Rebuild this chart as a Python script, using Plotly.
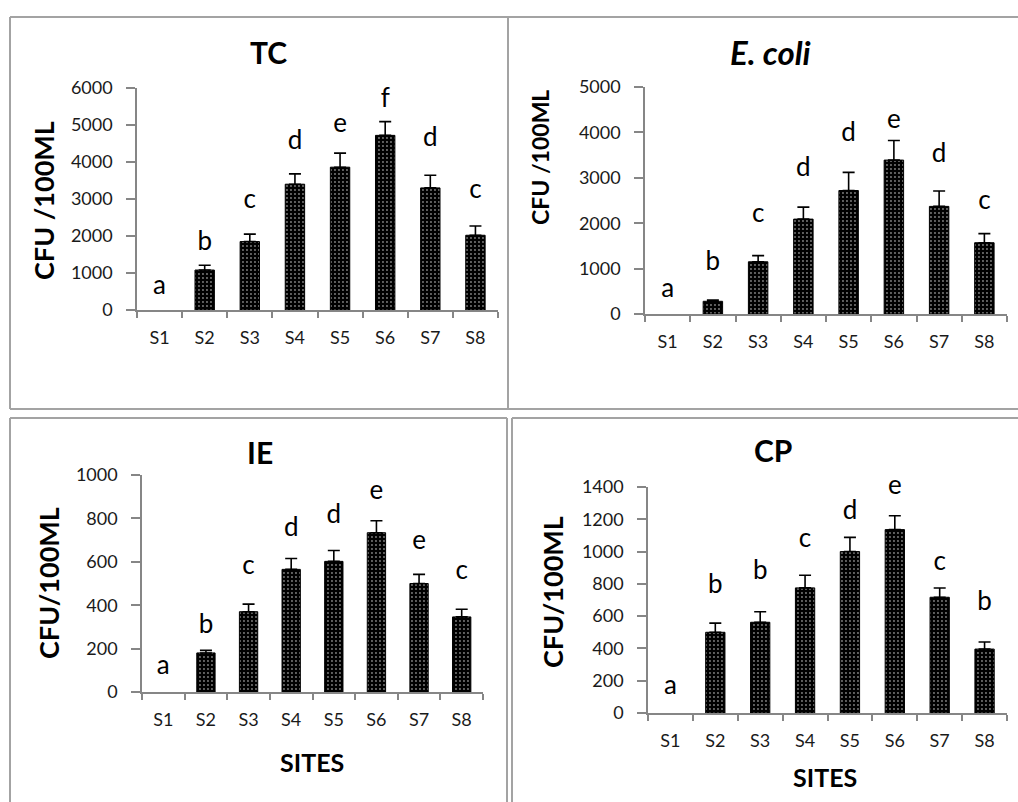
import plotly.graph_objects as go

W, H = 1018, 802

# ---------------- data ----------------
sites = ["S1", "S2", "S3", "S4", "S5", "S6", "S7", "S8"]

tc_mean = [0, 1080, 1850, 3400, 3860, 4720, 3300, 2020]
tc_err = [0, 130, 200, 280, 380, 370, 340, 250]
tc_letters = ["a", "b", "c", "d", "e", "f", "d", "c"]
tc_letter_y = [620, 1810, 2920, 4520, 4980, 5660, 4600, 3190]

ecoli_mean = [0, 280, 1150, 2090, 2720, 3390, 2370, 1570]
ecoli_err = [0, 30, 135, 265, 400, 430, 340, 200]
ecoli_letters = ["a", "b", "c", "d", "d", "e", "d", "c"]
ecoli_letter_y = [507, 1123, 2159, 3172, 3943, 4251, 3502, 2467]

ie_mean = [0, 180, 370, 565, 602, 734, 500, 346]
ie_err = [0, 12, 35, 50, 50, 55, 42, 35]
ie_letters = ["a", "b", "c", "d", "d", "e", "e", "c"]
ie_letter_y = [112, 301, 573, 750, 808, 918, 688, 550]

cp_mean = [0, 500, 562, 775, 1000, 1136, 717, 396]
cp_err = [0, 57, 65, 78, 88, 86, 57, 44]
cp_letters = ["a", "b", "b", "c", "d", "e", "c", "b"]
cp_letter_y = [155, 783, 871, 1070, 1245, 1400, 925, 677]

# ---------------- helpers ----------------
def px(x):
    return x / W


def py(y):
    return 1 - y / H


FONT = "Lato"
AXIS_GRAY = "#868686"
BORDER_GRAY = "#a3a3a3"
TICK_COLOR = "#1a1a1a"

panels = [
    dict(mean=tc_mean, err=tc_err, letters=tc_letters, ly=tc_letter_y,
         xd=(137, 498), yd=(310, 88), yr=6000, dt=1000,
         title="TC", tsize=30, tpos=(268, 52),
         ytitle="CFU /100ML", ytpos=(43, 201), ytsize=27, sites=None),
    dict(mean=ecoli_mean, err=ecoli_err, letters=ecoli_letters, ly=ecoli_letter_y,
         xd=(645, 1007), yd=(314, 87), yr=5000, dt=1000,
         title="<i>E. coli</i>", tsize=33, tpos=(770, 52),
         ytitle="CFU /100ML", ytpos=(540, 158), ytsize=23, sites=None),
    dict(mean=ie_mean, err=ie_err, letters=ie_letters, ly=ie_letter_y,
         xd=(142, 483), yd=(692, 475), yr=1000, dt=200,
         title="IE", tsize=30, tpos=(260, 452),
         ytitle="CFU/100ML", ytpos=(48, 583), ytsize=27, sites=(312, 762)),
    dict(mean=cp_mean, err=cp_err, letters=cp_letters, ly=cp_letter_y,
         xd=(648, 1007), yd=(713, 487), yr=1400, dt=200,
         title="CP", tsize=30, tpos=(773, 450),
         ytitle="CFU/100ML", ytpos=(552, 592), ytsize=27, sites=(825, 777)),
]

fig = go.Figure()
annotations = []
layout_axes = {}

for i, p in enumerate(panels, start=1):
    sfx = "" if i == 1 else str(i)
    xa, ya = "x" + sfx, "y" + sfx
    # zero-valued sites draw no bar and no error bar
    yvals = [v if v else None for v in p["mean"]]
    fig.add_trace(go.Bar(
        x=sites, y=yvals, xaxis=xa, yaxis=ya, width=0.43,
        marker=dict(color="black", line=dict(color="black", width=1),
                    pattern=dict(shape=".", bgcolor="black", fgcolor="white",
                                 size=4, solidity=0.18)),
        error_y=dict(type="data", array=p["err"], arrayminus=[0] * len(sites),
                     symmetric=False, color="black", thickness=1.6, width=6),
        showlegend=False, hoverinfo="skip",
    ))
    fig.add_trace(go.Scatter(
        x=sites, y=p["ly"], xaxis=xa, yaxis=ya, mode="text",
        text=p["letters"], textposition="middle center",
        textfont=dict(family=FONT, size=26, color="black"),
        cliponaxis=False, showlegend=False, hoverinfo="skip",
    ))
    layout_axes["xaxis" + sfx] = dict(
        domain=[px(p["xd"][0]), px(p["xd"][1])], anchor=ya,
        type="category", range=[-0.5, 7.5], showline=True, linecolor=AXIS_GRAY,
        linewidth=1.5, ticks="outside", tickson="boundaries", ticklen=6,
        tickcolor=AXIS_GRAY, tickwidth=1.5, showgrid=False, zeroline=False,
        tickfont=dict(family=FONT, size=18, color=TICK_COLOR),
        ticklabelstandoff=11, fixedrange=True, automargin=False,
    )
    layout_axes["yaxis" + sfx] = dict(
        domain=[py(p["yd"][0]), py(p["yd"][1])], anchor=xa,
        range=[0, p["yr"]], dtick=p["dt"], tick0=0, showline=True,
        linecolor=AXIS_GRAY, linewidth=1.5, ticks="outside", ticklen=9,
        tickcolor=AXIS_GRAY, tickwidth=1.5, showgrid=False, zeroline=False,
        tickfont=dict(family=FONT, size=18, color=TICK_COLOR),
        ticklabelstandoff=10, fixedrange=True, automargin=False,
    )
    annotations.append(dict(
        text=p["title"], x=px(p["tpos"][0]), y=py(p["tpos"][1]),
        xref="paper", yref="paper", showarrow=False,
        xanchor="center", yanchor="middle",
        font=dict(family=FONT, size=p["tsize"], color="black", weight="bold"),
    ))
    annotations.append(dict(
        text=p["ytitle"], x=px(p["ytpos"][0]), y=py(p["ytpos"][1]),
        xref="paper", yref="paper", showarrow=False, textangle=-90,
        xanchor="center", yanchor="middle",
        font=dict(family=FONT, size=p["ytsize"], color="black", weight="bold"),
    ))
    if p["sites"]:
        annotations.append(dict(
            text="SITES", x=px(p["sites"][0]), y=py(p["sites"][1]),
            xref="paper", yref="paper", showarrow=False,
            xanchor="center", yanchor="middle",
            font=dict(family=FONT, size=25, color="black", weight="bold"),
        ))

# panel frame lines (pixel coordinates converted to paper)
frame_lines = [
    (10, 17, 1018, 17),
    (10, 17, 10, 409),
    (508, 17, 508, 409),
    (10, 409, 1018, 409),
    (10, 418, 507, 418),
    (10, 418, 10, 802),
    (507, 418, 507, 802),
    (512, 418, 1018, 418),
    (512, 418, 512, 802),
]
shapes = [dict(type="line", xref="paper", yref="paper",
               x0=px(a), y0=py(b), x1=px(c), y1=py(d),
               line=dict(color=BORDER_GRAY, width=2))
          for a, b, c, d in frame_lines]

fig.update_layout(
    width=W, height=H,
    margin=dict(l=0, r=0, t=0, b=0, pad=0, autoexpand=False),
    paper_bgcolor="white", plot_bgcolor="white",
    annotations=annotations, shapes=shapes, bargap=0.57,
    **layout_axes,
)

fig.write_html("out.html", config={"displayModeBar": False},
               post_script="document.body.style.margin='0';")
